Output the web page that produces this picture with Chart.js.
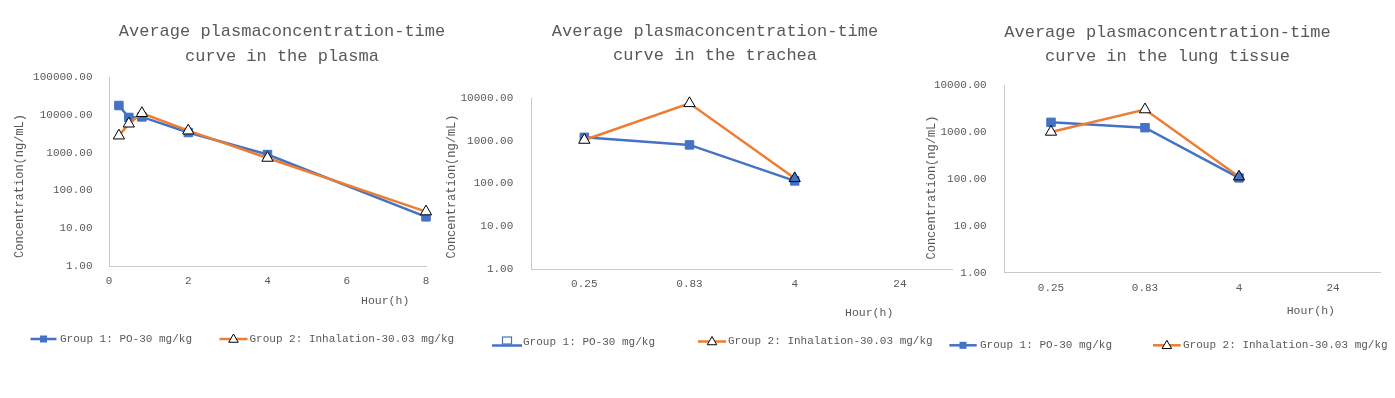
<!DOCTYPE html>
<html><head><meta charset="utf-8">
<script src="https://cdn.jsdelivr.net/npm/chart.js@4/dist/chart.umd.min.js"></script>
<style>
html,body{margin:0;padding:0;background:#fff;width:1395px;height:398px;overflow:hidden}
canvas{position:absolute;top:0}
</style></head><body>
<canvas id="c1" width="465" height="398" style="left:0px;width:465px;height:398px"></canvas>
<canvas id="c2" width="520" height="398" style="left:440px;width:520px;height:398px"></canvas>
<canvas id="c3" width="480" height="398" style="left:915px;width:480px;height:398px"></canvas>
<script>
// ---------- data ----------
const group1Label = 'Group 1: PO-30 mg/kg';
const group2Label = 'Group 2: Inhalation-30.03 mg/kg';

const plasmaHours = [0.25, 0.5, 0.83, 2, 4, 8];
const plasmaGroup1 = [17600, 8500, 8800, 3400, 890, 20];
const plasmaGroup2 = [2800, 5800, 11000, 3800, 720, 27.5];
const plasmaXTicks = [0, 2, 4, 6, 8];
const plasmaYTicks = [1, 10, 100, 1000, 10000, 100000];

const tissueHours = ['0.25', '0.83', '4', '24'];
const tracheaGroup1 = [1200, 800, 115, null];
const tracheaGroup2 = [1040, 7500, 132, null];
const lungGroup1 = [1600, 1230, 105, null];
const lungGroup2 = [1000, 3000, 111, null];
const tissueYTicks = [1, 10, 100, 1000, 10000];

const plasmaTitle = ['Average plasmaconcentration-time', 'curve in the plasma'];
const tracheaTitle = ['Average plasmaconcentration-time', 'curve in the trachea'];
const lungTitle = ['Average plasmaconcentration-time', 'curve in the lung tissue'];
const yAxisTitle = 'Concentration(ng/mL)';
const xAxisTitle = 'Hour(h)';

// ---------- style ----------
const FONT = '"Liberation Mono", "DejaVu Sans Mono", monospace';
const TXT = '#595959';
const BLUE = '#4472C4';
const ORANGE = '#ED7D31';
const AXIS = '#c9c9c9';

function drawTri(ctx, x, y, r, fill, stroke) {
  ctx.beginPath();
  ctx.moveTo(x, y - r);
  ctx.lineTo(x + r * 0.866, y + r * 0.5);
  ctx.lineTo(x - r * 0.866, y + r * 0.5);
  ctx.closePath();
  ctx.fillStyle = fill; ctx.fill();
  ctx.lineWidth = 1; ctx.strokeStyle = stroke; ctx.stroke();
}

const annotPlugin = {
  id: 'annot',
  afterDraw(chart, args, o) {
    const ctx = chart.ctx, dx = o.offset;
    ctx.save();
    ctx.fillStyle = TXT; ctx.textAlign = 'center'; ctx.textBaseline = 'middle';
    ctx.font = '17px ' + FONT;
    o.title.forEach((t, i) => ctx.fillText(t, o.titleX - dx, o.titleY[i]));
    ctx.font = '12px ' + FONT;
    ctx.save();
    ctx.translate(o.yTitleX - dx, o.yTitleY);
    ctx.rotate(-Math.PI / 2);
    ctx.fillText(yAxisTitle, 0, 0);
    ctx.restore();
    ctx.font = '11.5px ' + FONT; ctx.textAlign = 'left';
    ctx.fillText(xAxisTitle, o.xTitleX - dx, o.xTitleY);
    // legend
    o.legend.forEach(it => {
      const ds = chart.data.datasets[it.ds];
      const x1 = it.x1 - dx, x2 = it.x2 - dx, cx = (x1 + x2) / 2;
      ctx.lineWidth = 2.5; ctx.strokeStyle = ds.borderColor;
      if (it.variant === 'hollow') {
        ctx.beginPath(); ctx.moveTo(x1, it.y + 4); ctx.lineTo(x2, it.y + 4); ctx.stroke();
        ctx.fillStyle = '#fff'; ctx.lineWidth = 1.2;
        ctx.fillRect(cx - 4.5, it.y - 4.5, 9, 7);
        ctx.strokeRect(cx - 4.5, it.y - 4.5, 9, 7);
      } else {
        ctx.beginPath(); ctx.moveTo(x1, it.y); ctx.lineTo(x2, it.y); ctx.stroke();
        if (ds.pointStyle === 'rect') {
          ctx.fillStyle = ds.borderColor;
          ctx.fillRect(cx - 3.5, it.y - 3.5, 7, 7);
        } else {
          drawTri(ctx, cx, it.y + 0.5, 5.5, '#fff', '#000');
        }
      }
      ctx.fillStyle = TXT; ctx.font = '11px ' + FONT; ctx.textAlign = 'left';
      ctx.fillText(ds.label, it.textX - dx, it.textY);
    });
    ctx.restore();
  }
};

function g1(data, extra) {
  return Object.assign({
    label: group1Label, data, borderColor: BLUE, backgroundColor: BLUE,
    borderWidth: 2.5, pointStyle: 'rect', pointRadius: 6, pointHoverRadius: 6,
    pointBackgroundColor: BLUE, pointBorderColor: BLUE, pointBorderWidth: 1,
    tension: 0, order: 2, spanGaps: false, clip: false
  }, extra || {});
}
function g2(data, extra) {
  return Object.assign({
    label: group2Label, data, borderColor: ORANGE, backgroundColor: ORANGE,
    borderWidth: 2.5, pointStyle: 'triangle', pointRadius: 6.5, pointHoverRadius: 6.5,
    pointBackgroundColor: '#fff', pointBorderColor: '#000', pointBorderWidth: 1,
    tension: 0, order: 1, spanGaps: false, clip: false
  }, extra || {});
}

function yScale(ticksArr, min, max, width, pad) {
  return {
    type: 'logarithmic', min, max,
    grid: { display: false, drawTicks: false },
    border: { display: true, color: AXIS, width: 1 },
    ticks: { color: TXT, font: { family: FONT, size: 11 }, padding: pad,
             callback: v => Number(v).toFixed(2) },
    afterBuildTicks: s => { s.ticks = ticksArr.map(v => ({ value: v })); },
    afterFit: s => { s.width = width; }
  };
}

function makeChart(id, cfg) {
  return new Chart(document.getElementById(id), {
    type: 'line',
    data: cfg.data,
    options: {
      responsive: false, animation: false, devicePixelRatio: 1,
      layout: { padding: { top: cfg.top, right: cfg.right, bottom: 0, left: 0 } },
      plugins: { legend: { display: false }, title: { display: false }, tooltip: { enabled: false },
                 annot: cfg.annot },
      scales: { x: cfg.x, y: cfg.y }
    },
    plugins: [annotPlugin]
  });
}

// ---------- chart 1: plasma ----------
makeChart('c1', {
  top: 77, right: 39,
  data: { datasets: [
    g1(plasmaHours.map((h, i) => ({ x: h, y: plasmaGroup1[i] }))),
    g2(plasmaHours.map((h, i) => ({ x: h, y: plasmaGroup2[i] })))
  ] },
  x: {
    type: 'linear', min: 0, max: 8,
    grid: { display: false, drawTicks: false },
    border: { display: true, color: AXIS, width: 1 },
    ticks: { color: TXT, font: { family: FONT, size: 11 }, padding: 8 },
    afterBuildTicks: s => { s.ticks = plasmaXTicks.map(v => ({ value: v })); },
    afterFit: s => { s.height = 398 - 266; }
  },
  y: yScale(plasmaYTicks, 1, 100000, 109, 16.5),
  annot: {
    offset: 0, title: plasmaTitle, titleX: 282, titleY: [31.5, 56.5],
    yTitleX: 20, yTitleY: 186, xTitleX: 361, xTitleY: 300.5,
    legend: [
      { ds: 0, x1: 30.5, x2: 56.5, y: 339, textX: 60, textY: 339 },
      { ds: 1, x1: 219.5, x2: 247.5, y: 339, textX: 249.5, textY: 339 }
    ]
  }
});

// ---------- chart 2: trachea ----------
function catX(bottom) {
  return {
    type: 'category', offset: true,
    grid: { display: false, drawTicks: false },
    border: { display: true, color: AXIS, width: 1 },
    ticks: { color: TXT, font: { family: FONT, size: 11 }, padding: 8.5 },
    afterFit: s => { s.height = 398 - bottom; }
  };
}
makeChart('c2', {
  top: 98, right: 6,
  data: { labels: tissueHours, datasets: [
    g1(tracheaGroup1),
    g2(tracheaGroup2, { pointBackgroundColor: ['#fff', '#fff', BLUE, '#fff'] })
  ] },
  x: catX(269),
  y: yScale(tissueYTicks, 1, 10000, 91.7, 18.4),
  annot: {
    offset: 440, title: tracheaTitle, titleX: 715, titleY: [31, 55.3],
    yTitleX: 451.7, yTitleY: 186.5, xTitleX: 845, xTitleY: 313,
    legend: [
      { ds: 0, x1: 492, x2: 522, y: 341.5, textX: 523, textY: 342, variant: 'hollow' },
      { ds: 1, x1: 698, x2: 726, y: 341.5, textX: 728, textY: 341.5 }
    ]
  }
});

// ---------- chart 3: lung tissue ----------
makeChart('c3', {
  top: 85, right: 15,
  data: { labels: tissueHours, datasets: [
    g1(lungGroup1),
    g2(lungGroup2, { pointBackgroundColor: ['#fff', '#fff', BLUE, '#fff'] })
  ] },
  x: catX(272.7),
  y: yScale(tissueYTicks, 1, 10000, 89, 17.3),
  annot: {
    offset: 915, title: lungTitle, titleX: 1167.5, titleY: [32, 56.3],
    yTitleX: 931.7, yTitleY: 187.5, xTitleX: 1286.7, xTitleY: 310.7,
    legend: [
      { ds: 0, x1: 949.3, x2: 976.7, y: 345.3, textX: 980, textY: 345.3 },
      { ds: 1, x1: 1153, x2: 1180.7, y: 345.3, textX: 1183, textY: 345.3 }
    ]
  }
});
</script>
</body></html>
